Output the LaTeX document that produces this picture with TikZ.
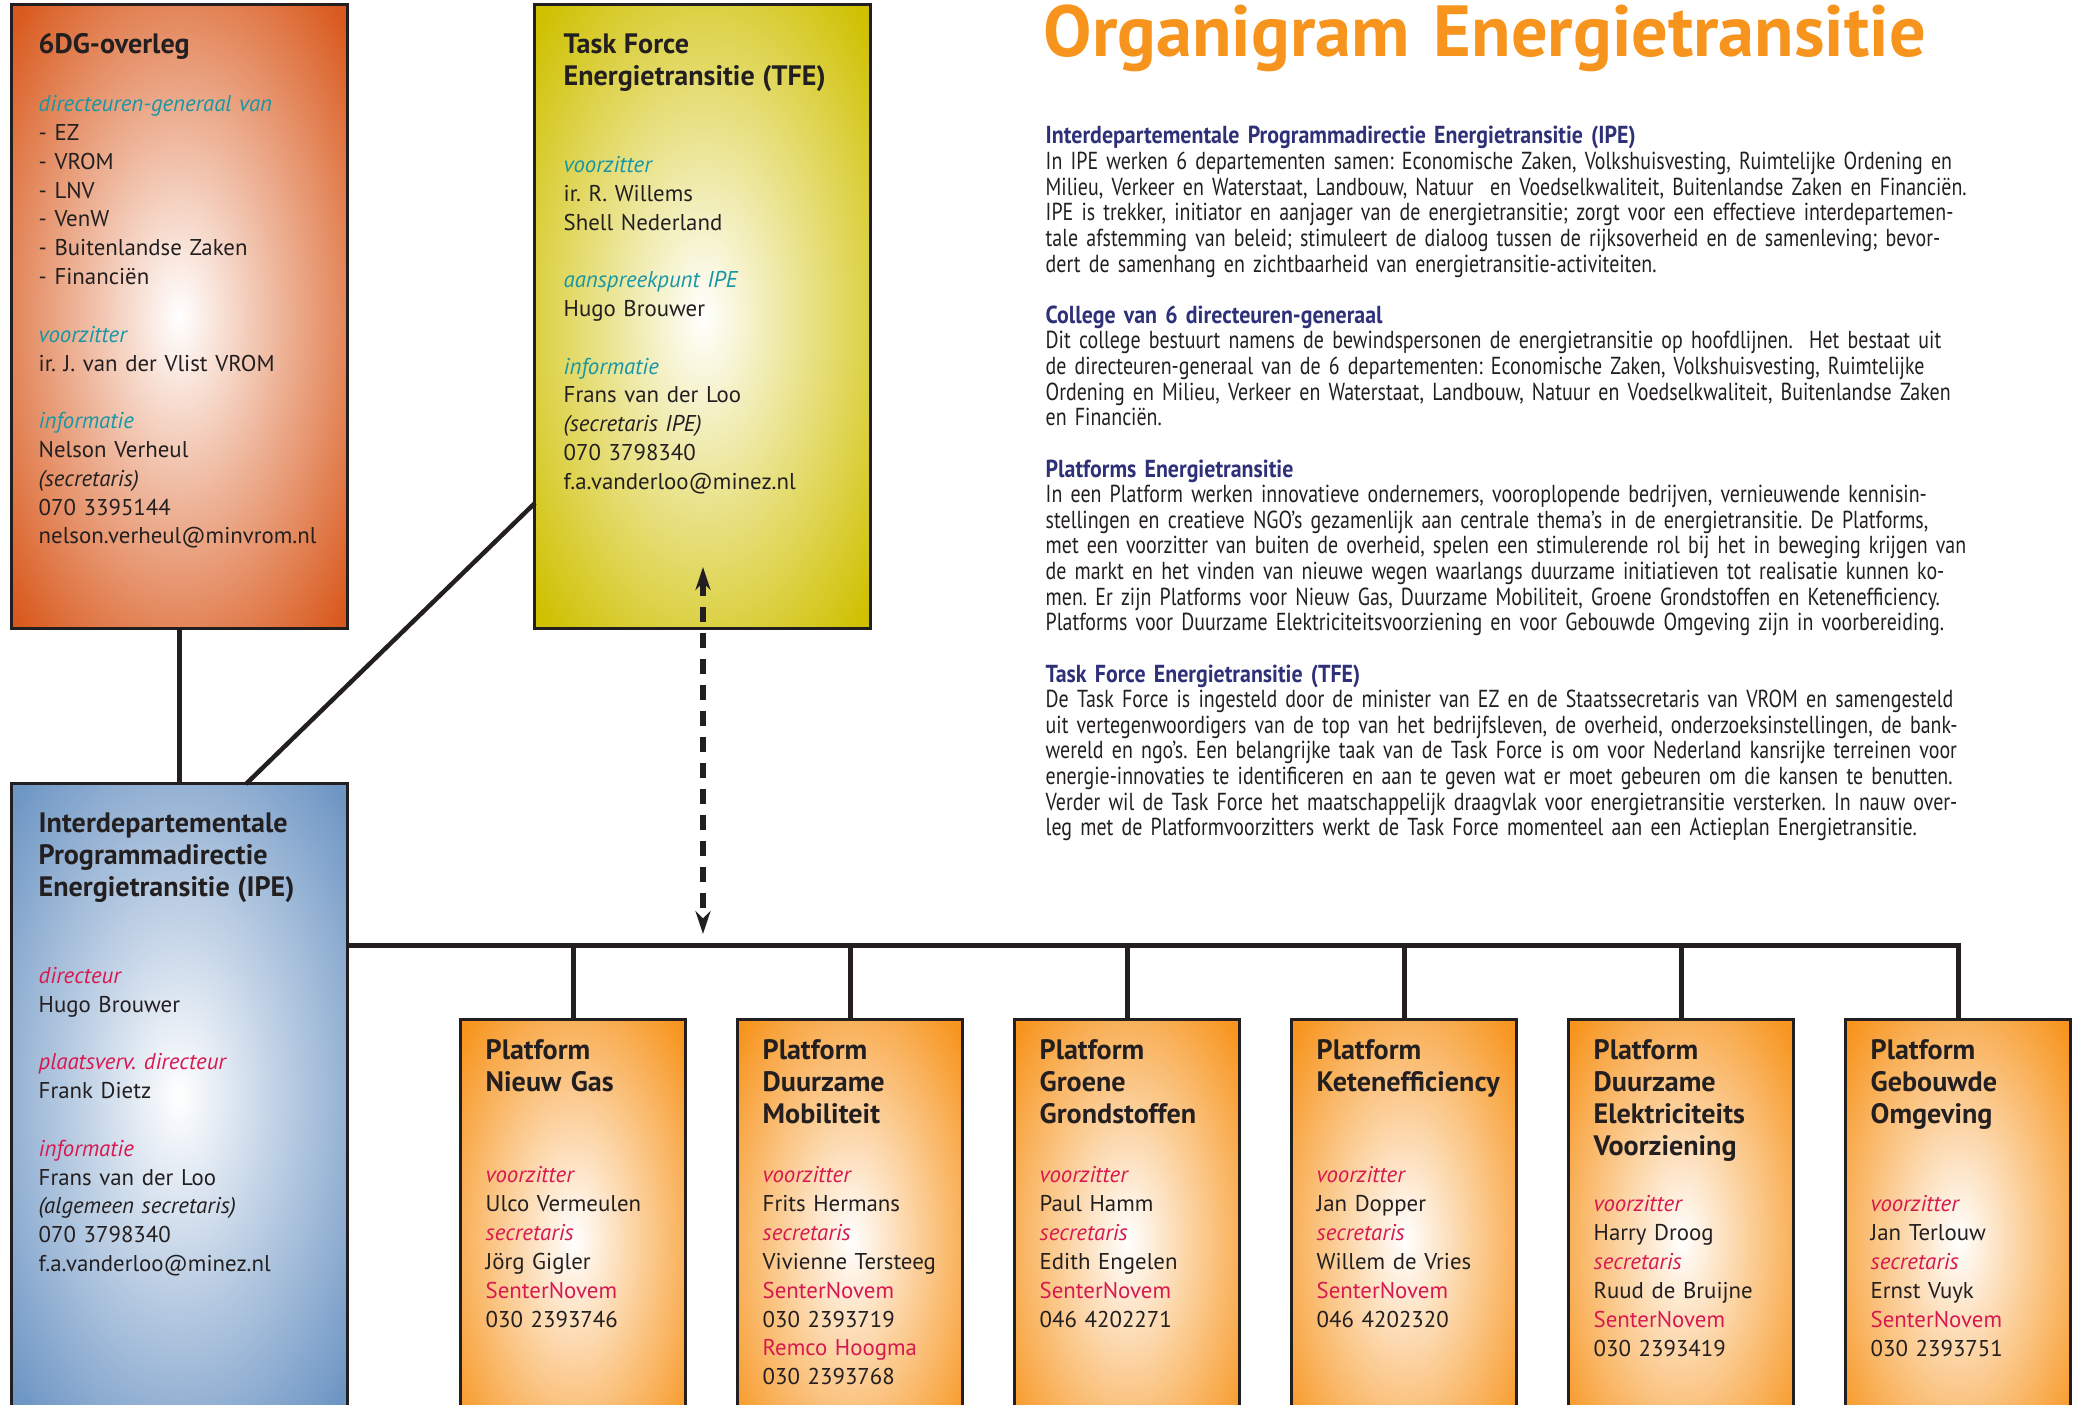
\documentclass[tikz,border=0pt]{standalone}
\usepackage{fontspec}
\setmainfont{PT Sans}
\newfontfamily\narrowfont[FakeStretch=0.81]{PT Sans}
\newfontfamily\narrowheadfont[FakeStretch=0.89]{PT Sans}
\usetikzlibrary{arrows.meta,positioning}
\frenchspacing

\definecolor{ink}{RGB}{35,31,32}
\definecolor{dgorange}{RGB}{217,90,30}
\definecolor{tfeyellow}{RGB}{207,192,0}
\definecolor{ipeblue}{RGB}{110,150,196}
\definecolor{platorange}{RGB}{247,148,29}
\definecolor{teallabel}{RGB}{24,150,165}
\definecolor{redlabel}{RGB}{215,25,80}
\definecolor{navyhead}{RGB}{46,49,120}
\colorlet{glowcol}{white}

% white glow in the middle of every box
\pgfdeclareradialshading[glowcol]{glow}{\pgfpointorigin}{%
  color(0bp)=(white); color(15bp)=(glowcol!45!white); color(34bp)=(glowcol); color(50bp)=(glowcol)}

\newcommand\bodysize{\fontsize{6.5}{8.2}\selectfont}
\newcommand\headsize{\fontsize{8}{9.1}\selectfont\bfseries}
\newcommand\tlabel[1]{{\color{teallabel}\itshape #1}}
\newcommand\rlabel[1]{{\color{redlabel}\itshape #1}}
\newcommand\rname[1]{{\color{redlabel}#1}}
\newcommand\sechead[1]{{\narrowheadfont\bfseries\color{navyhead}#1}}
\newlength\blankskip
\setlength\blankskip{8.2pt}

\begin{document}
\begin{tikzpicture}
[x=0.1mm,y=-0.1mm,>={Stealth[length=2.3mm,width=1.5mm]},
  card/.style={rectangle,inner sep=0pt,outer sep=0pt,shade,shading=glow,draw=ink,line width=0.3mm,
    /utils/exec={\colorlet{glowcol}{#1}}},
  big card/.style={card=#1,minimum width=33.6mm,minimum height=62.4mm},
  platform/.style={card=platorange,minimum width=22.5mm,minimum height=44mm},
  info/.style={inner sep=0pt,anchor=base west,text width=40mm,align=left,text=ink,font=\bodysize},
  head/.style={info,font=\headsize},
  about/.style={info,text width=115mm,font=\narrowfont\fontsize{7}{7.29}\selectfont},
  link/.style={draw=ink,line width=0.5mm}]

  \useasboundingbox (0,0) rectangle (2078,1405);
  \clip (0,0) rectangle (2078,1405);

  % boxes
  \node[big card=dgorange] (dg) at (179,317) {};
  \node[big card=tfeyellow, right=18.8mm of dg] (tfe) {};
  \node[big card=ipeblue, below=15.5mm of dg] (ipe) {};
  \node[platform, below right=23.6mm and 11.4mm of ipe.north east] (p1) {};
  \node[platform, right=5.2mm of p1] (p2) {};
  \node[platform, right=5.2mm of p2] (p3) {};
  \node[platform, right=5.2mm of p3] (p4) {};
  \node[platform, right=5.2mm of p4] (p5) {};
  \node[platform, right=5.2mm of p5] (p6) {};

  % texts in the big boxes
  \node[below right=4.9mm and 2.7mm of dg.north west, info] (dgtext) {%
    {\headsize 6DG-overleg\par}\vspace{\blankskip}
    \tlabel{directeuren-generaal van}\\
    - EZ\\ - VROM\\ - LNV\\ - VenW\\ - Buitenlandse Zaken\\ - Financiën\par\vspace{\blankskip}
    \tlabel{voorzitter}\\ ir. J. van der Vlist VROM\par\vspace{\blankskip}
    \tlabel{informatie}\\ Nelson Verheul\\ \textit{(secretaris)}\\ 070 3395144\\
    nelson.verheul@minvrom.nl};
  \node[below right=4.9mm and 2.8mm of tfe.north west, info] (tfetext) {%
    {\headsize Task Force\\ Energietransitie (TFE)\par}\vspace{2\blankskip}
    \tlabel{voorzitter}\\ ir. R. Willems\\ Shell Nederland\par\vspace{\blankskip}
    \tlabel{aanspreekpunt IPE}\\ Hugo Brouwer\par\vspace{\blankskip}
    \tlabel{informatie}\\ Frans van der Loo\\ \textit{(secretaris IPE)}\\ 070 3798340\\
    f.a.vanderloo@minez.nl};
  \node[below right=4.9mm and 2.7mm of ipe.north west, info] (ipetext) {%
    {\headsize Interdepartementale\\ Programmadirectie\\ Energietransitie (IPE)\par}\vspace{2\blankskip}
    \rlabel{directeur}\\ Hugo Brouwer\par\vspace{\blankskip}
    \rlabel{plaatsverv. directeur}\\ Frank Dietz\par\vspace{\blankskip}
    \rlabel{informatie}\\ Frans van der Loo\\ \textit{(algemeen secretaris)}\\ 070 3798340\\
    f.a.vanderloo@minez.nl};

  % platforms
  \node[below right=4mm and 2.4mm of p1.north west, head] (p1name) {Platform\\ Nieuw Gas};
  \node[below right=16.3mm and 2.4mm of p1.north west, info] (p1info) {%
    \rlabel{voorzitter}\\ Ulco Vermeulen\\ \rlabel{secretaris}\\ Jörg Gigler\\
    \rname{SenterNovem}\\ 030 2393746};
  \node[below right=4mm and 2.4mm of p2.north west, head] (p2name) {Platform\\ Duurzame\\ Mobiliteit};
  \node[below right=16.3mm and 2.4mm of p2.north west, info] (p2info) {%
    \rlabel{voorzitter}\\ Frits Hermans\\ \rlabel{secretaris}\\ Vivienne Tersteeg\\
    \rname{SenterNovem}\\ 030 2393719\\ \rname{Remco Hoogma}\\ 030 2393768};
  \node[below right=4mm and 2.4mm of p3.north west, head] (p3name) {Platform\\ Groene\\ Grondstoffen};
  \node[below right=16.3mm and 2.4mm of p3.north west, info] (p3info) {%
    \rlabel{voorzitter}\\ Paul Hamm\\ \rlabel{secretaris}\\ Edith Engelen\\
    \rname{SenterNovem}\\ 046 4202271};
  \node[below right=4mm and 2.4mm of p4.north west, head] (p4name) {Platform\\ Ketenefficiency};
  \node[below right=16.3mm and 2.4mm of p4.north west, info] (p4info) {%
    \rlabel{voorzitter}\\ Jan Dopper\\ \rlabel{secretaris}\\ Willem de Vries\\
    \rname{SenterNovem}\\ 046 4202320};
  \node[below right=4mm and 2.4mm of p5.north west, head] (p5name) {Platform\\ Duurzame\\ Elektriciteits\\ Voorziening};
  \node[below right=19.2mm and 2.4mm of p5.north west, info] (p5info) {%
    \rlabel{voorzitter}\\ Harry Droog\\ \rlabel{secretaris}\\ Ruud de Bruijne\\
    \rname{SenterNovem}\\ 030 2393419};
  \node[below right=4mm and 2.4mm of p6.north west, head] (p6name) {Platform\\ Gebouwde\\ Omgeving};
  \node[below right=19.2mm and 2.4mm of p6.north west, info] (p6info) {%
    \rlabel{voorzitter}\\ Jan Terlouw\\ \rlabel{secretaris}\\ Ernst Vuyk\\
    \rname{SenterNovem}\\ 030 2393751};

  % title and explanation
  \node[info, text width=120mm, font=\fontsize{20.6}{22}\selectfont\bfseries, text=platorange]
    (title) at (1043,57) {Organigram Energietransitie};
  \node[about] (about) at (1045,144) {%
    \sechead{Interdepartementale Programmadirectie Energietransitie (IPE)}\\
    In IPE werken 6 departementen samen: Economische Zaken, Volkshuisvesting, Ruimtelijke Ordening en\\
    Milieu, Verkeer en Waterstaat, Landbouw, Natuur\ \ en Voedselkwaliteit, Buitenlandse Zaken en Financiën.\\
    IPE is trekker, initiator en aanjager van de energietransitie; zorgt voor een effectieve interdepartemen-\\
    tale afstemming van beleid; stimuleert de dialoog tussen de rijksoverheid en de samenleving; bevor-\\
    dert de samenhang en zichtbaarheid van energietransitie-activiteiten.\par\vspace{7.29pt}
    \sechead{College van 6 directeuren-generaal}\\
    Dit college bestuurt namens de bewindspersonen de energietransitie op hoofdlijnen.\ \ Het bestaat uit\\
    de directeuren-generaal van de 6 departementen: Economische Zaken, Volkshuisvesting, Ruimtelijke\\
    Ordening en Milieu, Verkeer en Waterstaat, Landbouw, Natuur en Voedselkwaliteit, Buitenlandse Zaken\\
    en Financiën.\par\vspace{7.29pt}
    \sechead{Platforms Energietransitie}\\
    In een Platform werken innovatieve ondernemers, vooroplopende bedrijven, vernieuwende kennisin-\\
    stellingen en creatieve NGO’s gezamenlijk aan centrale thema’s in de energietransitie. De Platforms,\\
    met een voorzitter van buiten de overheid, spelen een stimulerende rol bij het in beweging krijgen van\\
    de markt en het vinden van nieuwe wegen waarlangs duurzame initiatieven tot realisatie kunnen ko-\\
    men. Er zijn Platforms voor Nieuw Gas, Duurzame Mobiliteit, Groene Grondstoffen en Ketenefficiency.\\
    Platforms voor Duurzame Elektriciteitsvoorziening en voor Gebouwde Omgeving zijn in voorbereiding.\par\vspace{7.29pt}
    \sechead{Task Force Energietransitie (TFE)}\\
    De Task Force is ingesteld door de minister van EZ en de Staatssecretaris van VROM en samengesteld\\
    uit vertegenwoordigers van de top van het bedrijfsleven, de overheid, onderzoeksinstellingen, de bank-\\
    wereld en ngo’s. Een belangrijke taak van de Task Force is om voor Nederland kansrijke terreinen voor\\
    energie-innovaties te identificeren en aan te geven wat er moet gebeuren om die kansen te benutten.\\
    Verder wil de Task Force het maatschappelijk draagvlak voor energietransitie versterken. In nauw over-\\
    leg met de Platformvoorzitters werkt de Task Force momenteel aan een Actieplan Energietransitie.};

  % connectors
  \coordinate (busL) at ([yshift=-16.2mm]ipe.north east);
  \draw[link] (dg.south) -- (ipe.north);
  \draw[link, line width=0.45mm] ([xshift=6.7mm]ipe.north) -- ([yshift=-18.6mm]tfe.west);
  \draw[link, <->, line width=0.55mm, dash pattern=on 1.55mm off 1.05mm] ([yshift=6.2mm]tfe.south) -- ([yshift=1.2mm]tfe.south |- busL);
  \draw[link] (busL) -| (p6.north);
  \draw[link] (p1.north) -- (p1.north |- busL);
  \draw[link] (p2.north) -- (p2.north |- busL);
  \draw[link] (p3.north) -- (p3.north |- busL);
  \draw[link] (p4.north) -- (p4.north |- busL);
  \draw[link] (p5.north) -- (p5.north |- busL);
\end{tikzpicture}
\end{document}
